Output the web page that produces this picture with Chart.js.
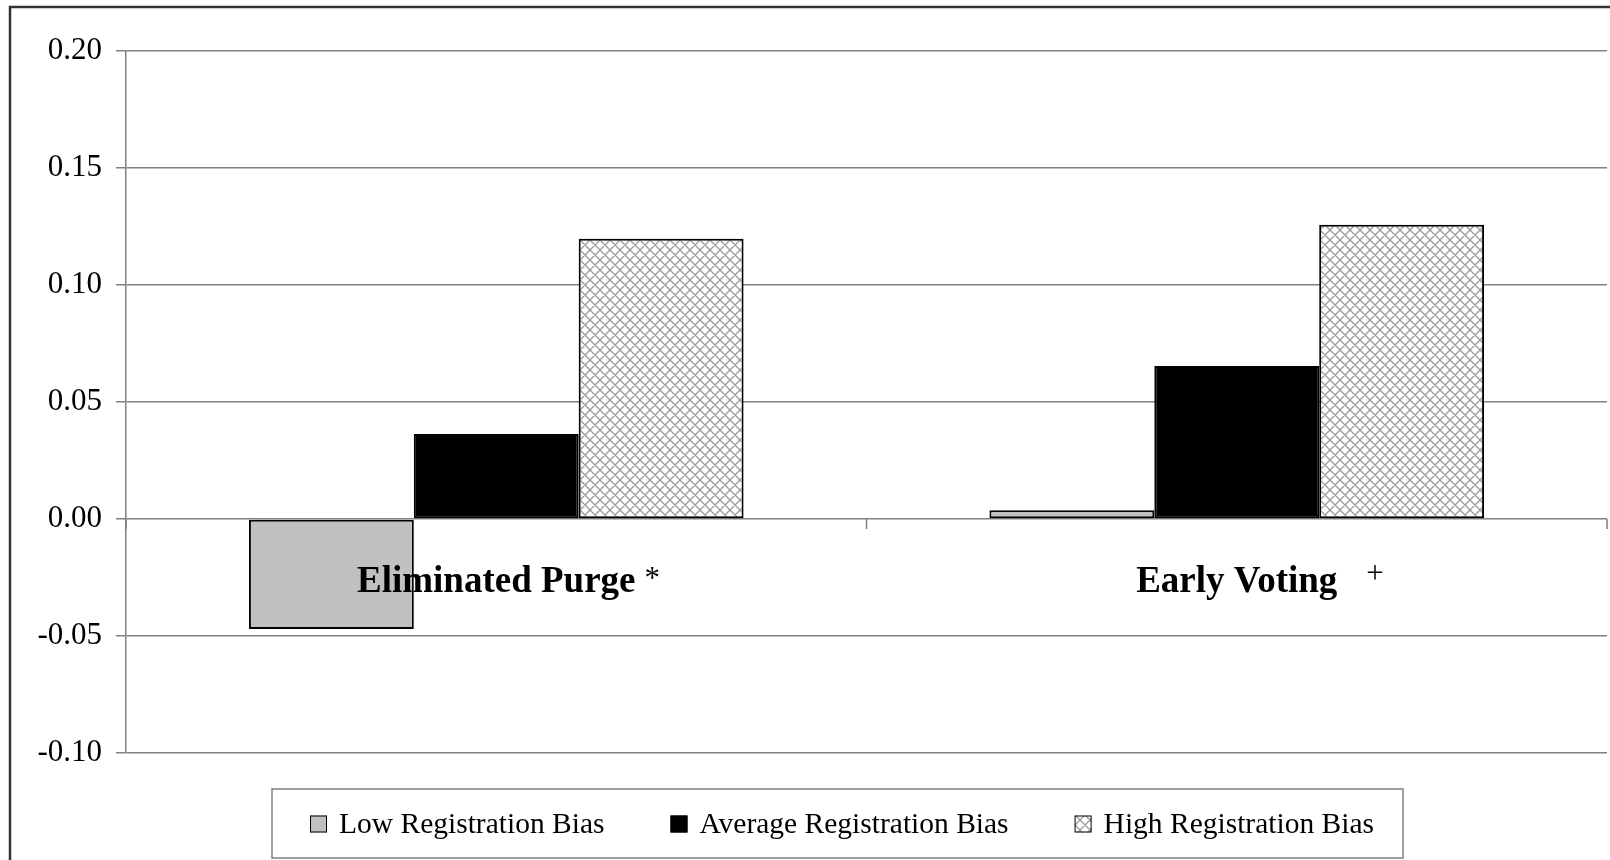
<!DOCTYPE html>
<html>
<head>
<meta charset="utf-8">
<script src="https://cdn.jsdelivr.net/npm/chart.js@4/dist/chart.umd.min.js"></script>
<style>
  body { margin: 0; background: #fff; }
  canvas { display: block; }
</style>
</head>
<body>
<canvas id="regChart" width="1610" height="860"></canvas>
<script>
// data
const categories = ['Eliminated Purge', 'Early Voting'];
const sigMarks = ['*', '+'];
const seriesNames = ['Low Registration Bias', 'Average Registration Bias', 'High Registration Bias'];
const lowBias = [-0.047, 0.0037];
const avgBias = [0.0363, 0.0654];
const highBias = [0.1198, 0.1258];
const yTicks = [-0.10, -0.05, 0.00, 0.05, 0.10, 0.15, 0.20];

const SERIF = "'Liberation Serif', 'Times New Roman', serif";
const GRID = '#808080';

// cross hatch like the excel pattern fill
function makeHatch(size) {
  const c = document.createElement('canvas');
  c.width = size; c.height = size;
  const g = c.getContext('2d');
  g.fillStyle = '#ffffff';
  g.fillRect(0, 0, size, size);
  g.strokeStyle = '#9a9a9a';
  g.lineWidth = 1.3;
  g.beginPath();
  for (const dx of [-size, 0, size]) {
    g.moveTo(dx, 0); g.lineTo(dx + size, size);
    g.moveTo(dx + size, 0); g.lineTo(dx, size);
  }
  g.stroke();
  return g.createPattern(c, 'repeat');
}

const ctx = document.getElementById('regChart').getContext('2d');
const hatch = makeHatch(10);
const fills = ['#c0c0c0', '#000000', hatch];

const frameAndLabels = {
  id: 'frameAndLabels',
  afterDraw(chart) {
    const c = chart.ctx;
    const x = chart.scales.x;
    const y = chart.scales.y;
    const zeroY = y.getPixelForValue(0);
    c.save();

    // category axis drawn at zero with boundary ticks
    c.strokeStyle = GRID;
    c.lineWidth = 1.5;
    const half = (x.getPixelForValue(1) - x.getPixelForValue(0)) / 2;
    c.beginPath();
    for (let i = 0; i <= categories.length; i++) {
      const px = x.getPixelForValue(0) - half + i * half * 2;
      c.moveTo(px, zeroY);
      c.lineTo(px, zeroY + 10);
    }
    c.stroke();

    // category labels + significance marks
    c.fillStyle = '#000';
    c.textBaseline = 'alphabetic';
    const markGap = [9, 29];
    const markRise = [4, 9];
    categories.forEach((cat, i) => {
      const cx = x.getPixelForValue(i);
      c.font = 'bold 37px ' + SERIF;
      c.textAlign = 'center';
      c.fillText(cat, cx, zeroY + 73);
      const w = c.measureText(cat).width;
      c.font = '31px ' + SERIF;
      c.textAlign = 'left';
      c.fillText(sigMarks[i], cx + w / 2 + markGap[i], zeroY + 73 - markRise[i]);
    });

    // legend box
    c.strokeStyle = GRID;
    c.lineWidth = 1.5;
    c.strokeRect(272, 789, 1131, 69);
    c.font = '29.5px ' + SERIF;
    const box = 17, boxGap = 12, itemGap = 66;
    const widths = chart.data.datasets.map(ds => c.measureText(ds.label).width);
    const total = widths.reduce((a, w) => a + box + boxGap + w, 0) + itemGap * (widths.length - 1);
    let lx = 842 - total / 2;
    const ly = 824;
    c.textAlign = 'left';
    c.textBaseline = 'middle';
    chart.data.datasets.forEach((ds, i) => {
      c.fillStyle = ds.backgroundColor;
      c.fillRect(lx, ly - box / 2, box, box);
      c.strokeStyle = '#000';
      c.lineWidth = 1;
      c.strokeRect(lx + 0.5, ly - box / 2 + 0.5, box - 1, box - 1);
      c.fillStyle = '#000';
      c.fillText(ds.label, lx + box + boxGap, ly + 1);
      lx += box + boxGap + widths[i] + itemGap;
    });

    // outer chart frame
    c.strokeStyle = '#333';
    c.lineWidth = 2.5;
    c.strokeRect(10, 7, 1700, 1000);
    c.restore();
  }
};

new Chart(ctx, {
  type: 'bar',
  data: {
    labels: categories,
    datasets: [lowBias, avgBias, highBias].map((vals, i) => ({
      label: seriesNames[i],
      data: vals,
      backgroundColor: fills[i],
      borderColor: '#000000',
      borderWidth: 2,
      borderSkipped: false,
      categoryPercentage: 0.668,
      barPercentage: 1.0
    }))
  },
  options: {
    responsive: false,
    animation: false,
    layout: {
      padding: { left: 0, top: 51, right: 3, bottom: 107 }
    },
    scales: {
      x: {
        display: false
      },
      y: {
        min: -0.10,
        max: 0.20,
        afterFit(scale) { scale.width = 126; },
        afterBuildTicks(scale) {
          scale.ticks = yTicks.map(v => ({ value: v }));
        },
        ticks: {
          padding: 14,
          color: '#000',
          font: { family: SERIF, size: 31 },
          callback: v => Number(v).toFixed(2)
        },
        grid: {
          color: GRID,
          lineWidth: 1.5,
          tickLength: 10,
          tickColor: GRID
        },
        border: { color: GRID, width: 1.5 }
      }
    },
    plugins: {
      legend: { display: false },
      tooltip: { enabled: false }
    }
  },
  plugins: [frameAndLabels]
});
</script>
</body>
</html>
